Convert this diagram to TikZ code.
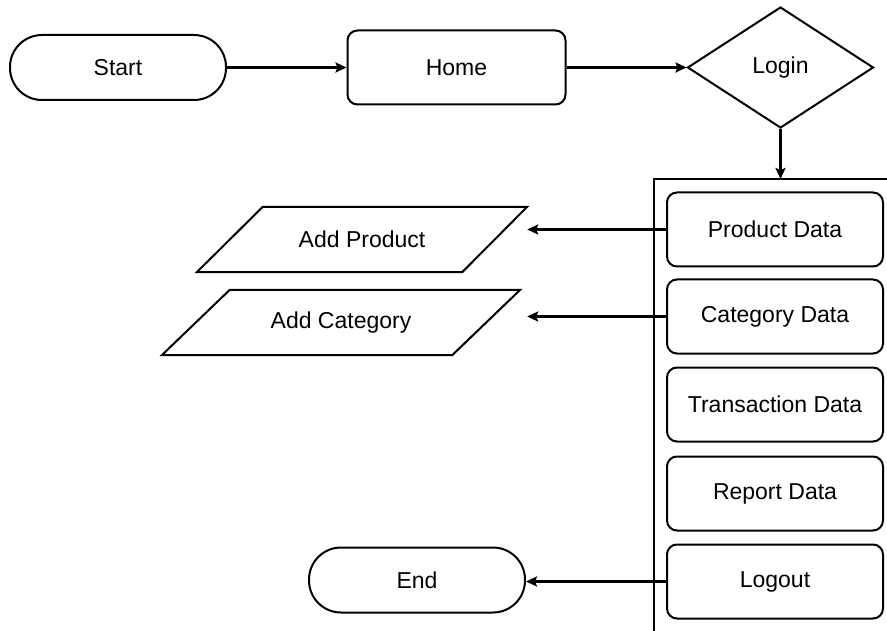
\documentclass[tikz,border=0pt]{standalone}
\usepackage{fontspec}
\setmainfont{Liberation Sans}
\usetikzlibrary{shapes.geometric,arrows.meta}
\begin{document}
\begin{tikzpicture}[x=1pt,y=-1pt,
  every node/.style={font=\fontsize{23}{27}\selectfont, inner sep=0pt},
  term/.style={draw, line width=2pt, rounded corners=32pt, minimum width=216pt, minimum height=65pt},
  proc/.style={draw, line width=2pt, rounded corners=10pt, minimum width=218pt, minimum height=74pt},
  menu/.style={draw, line width=2pt, rounded corners=10pt, minimum width=216pt, minimum height=74pt},
  dec/.style={draw, diamond, line width=2pt, minimum width=186pt, minimum height=121pt},
  io/.style={minimum height=65pt},
  para/.style={line width=2pt, line join=miter},
  flow/.style={line width=3pt, -{Stealth[length=11pt,width=10pt,inset=2pt]}},
  box/.style={line width=1.6pt}
]
\useasboundingbox (0,0) rectangle (887,631);

% top row
\node[term] (start) at (118,67.5) {Start};
\node[proc] (home) at (456.5,67.5) {Home};
\node[dec] (login) at (780.5,67.5) {Login};

% container
\coordinate (ctl) at (654,179);
\draw[box] (654,640) -- (ctl) -- (900,179);

% menu items
\node[menu] (pd) at (775,229.5) {Product Data};
\node[menu] (cd) at (775,316.5) {Category Data};
\node[menu] (td) at (775,404.5) {Transaction Data};
\node[menu] (rd) at (775,493.5) {Report Data};
\node[menu] (lo) at (775,581.5) {Logout};

% input/output shapes
\node[io, minimum width=330pt] (ap) at (362,239.5) {Add Product};
\draw[para] (ap.south west) -- ([xshift=66pt]ap.north west) -- (ap.north east) -- ([xshift=-65pt]ap.south east) -- cycle;
\node[io, minimum width=358pt] (ac) at (341,322.5) {Add Category};
\draw[para] (ac.south west) -- ([xshift=68pt]ac.north west) -- (ac.north east) -- ([xshift=-68pt]ac.south east) -- cycle;

% end
\node[term] (end) at (417,580) {End};

% connectors
\draw[flow] (start) -- (home);
\draw[flow] (home.east) -- (home.east -| login.west);
\draw[flow] (login.south) -- (login.south |- ctl);
\draw[flow] (pd.west) -- (pd.west -| ap.east);
\draw[flow] (cd.west) -- (cd.west -| ap.east);
\draw[flow] (lo.west) -- (lo.west -| end.east);
\end{tikzpicture}
\end{document}
